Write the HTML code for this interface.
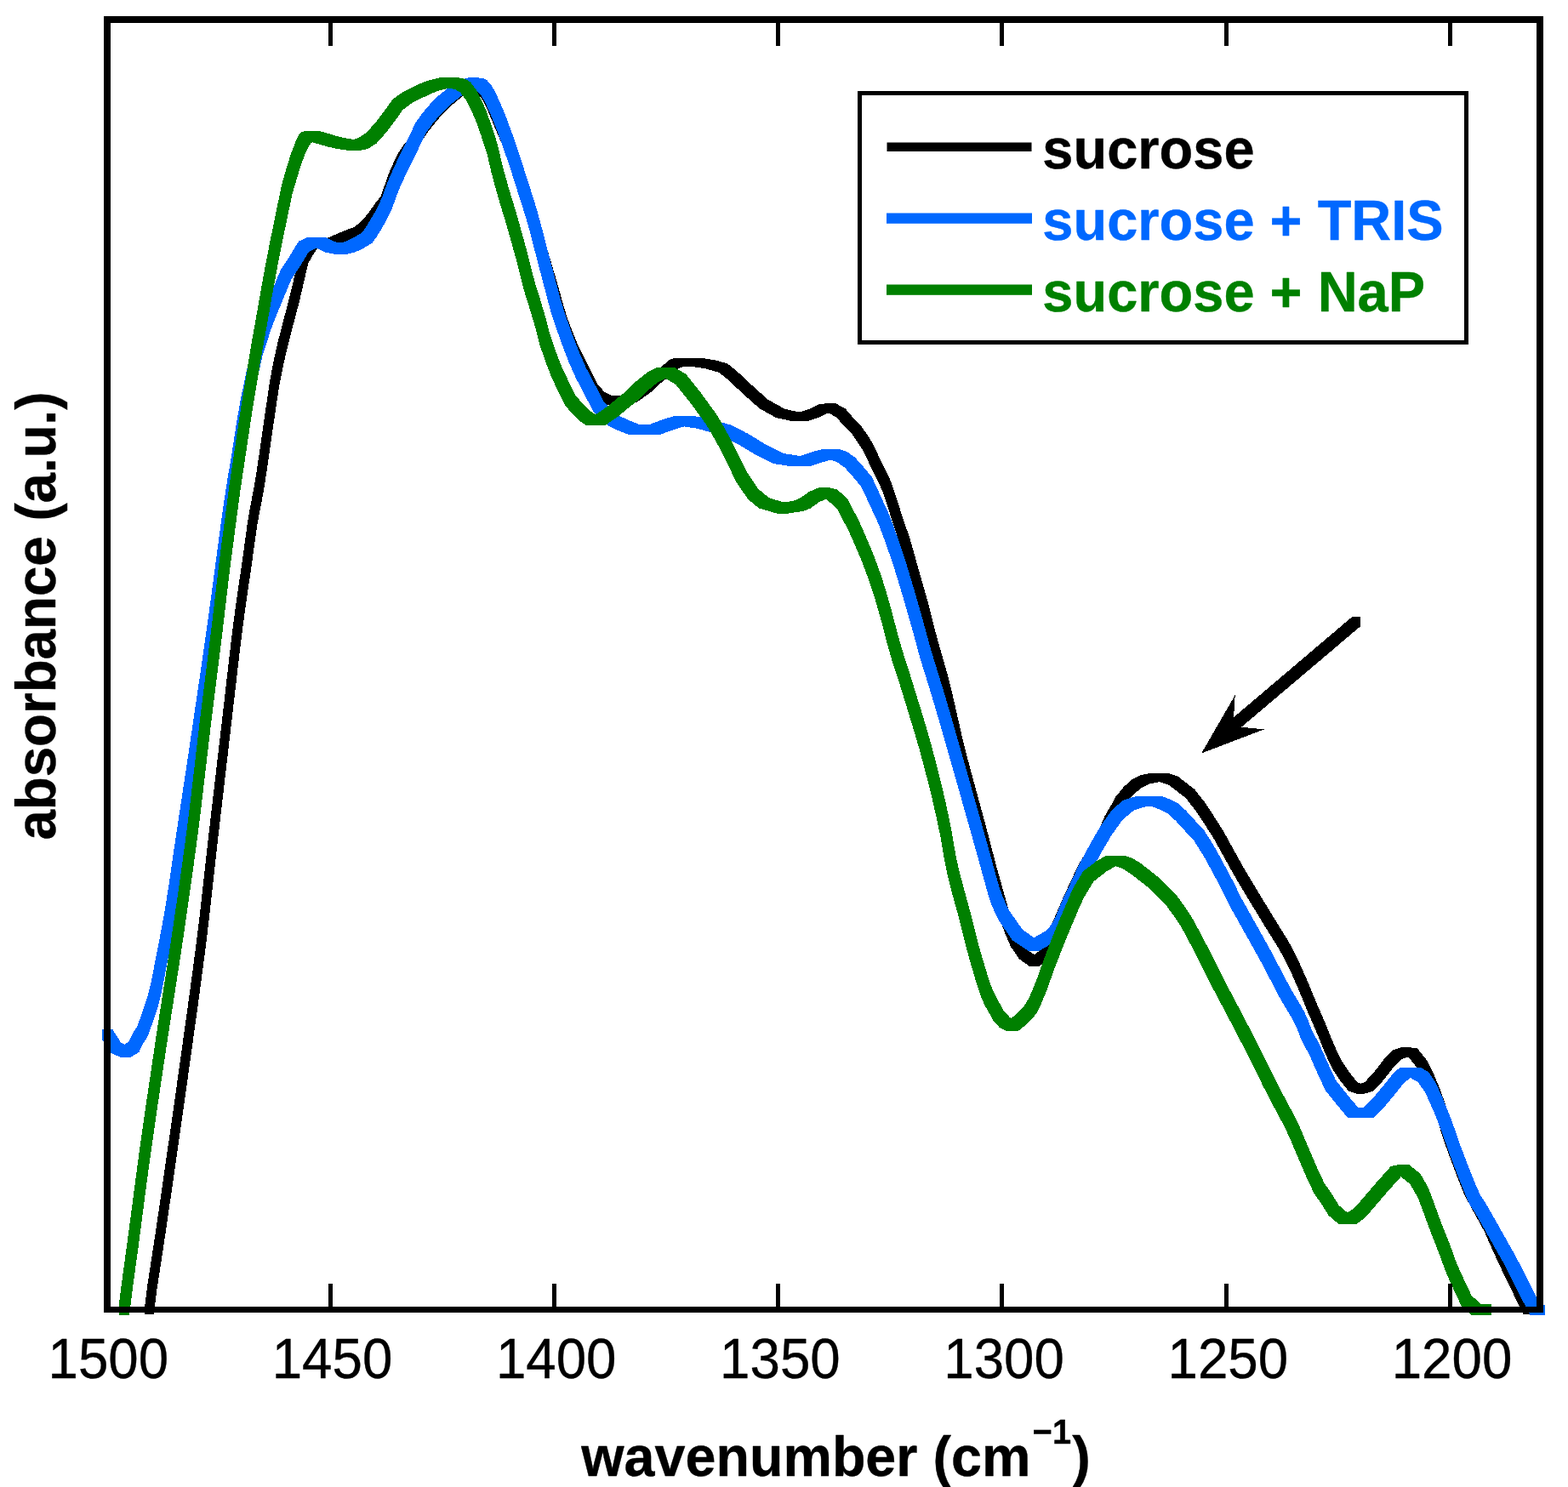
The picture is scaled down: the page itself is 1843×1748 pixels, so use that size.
<!DOCTYPE html>
<html lang="en">
<head>
<meta charset="utf-8">
<title>FTIR absorbance spectra: sucrose, sucrose + TRIS, sucrose + NaP</title>
<style>
html,body{margin:0;padding:0;background:#fff;}
body{width:1843px;height:1748px;overflow:hidden;}
svg{display:block;}
text{font-family:"Liberation Sans",sans-serif;fill:#000;stroke:#000;stroke-width:0.4px;stroke-linejoin:round;}
.tick{font-size:66.67px;text-anchor:middle;}
.lab{font-size:66.67px;font-weight:bold;}
</style>
</head>
<body>
<svg width="1843" height="1748" viewBox="0 0 1843 1748" role="img" aria-label="Absorbance versus wavenumber for sucrose, sucrose + TRIS and sucrose + NaP">
<rect x="0" y="0" width="1843" height="1748" fill="#fff"/>
<g id="curves" fill-rule="evenodd" shape-rendering="crispEdges">
<path fill="#000000" d="M219.0,1195.6 L205.7,1290.5 L189.0,1406.8 L182.3,1452.2 L173.6,1508.6 L170.3,1534.3 L170.3,1544.7 L180.7,1544.7 L184.7,1513.8 L190.9,1473.8 L196.0,1439.8 L215.2,1306.7 L233.4,1176.3 L241.3,1117.0 L246.3,1075.4 L256.2,986.0 L282.4,760.7 L285.4,737.0 L287.7,719.7 L295.6,665.1 L300.4,630.4 L302.1,618.9 L304.0,607.7 L309.2,580.8 L311.9,564.5 L315.2,542.7 L321.4,499.2 L326.2,466.6 L327.9,455.8 L329.9,444.9 L333.2,428.6 L336.9,412.3 L343.8,385.1 L351.7,355.2 L362.2,309.8 L367.1,301.0 L373.0,292.2 L383.1,290.1 L395.1,289.9 L408.8,284.0 L418.6,280.1 L426.4,277.2 L436.2,269.3 L444.0,259.6 L450.9,249.8 L457.8,241.1 L467.5,213.7 L473.4,200.0 L478.3,190.2 L483.6,182.2 L492.6,170.8 L502.1,156.1 L509.6,146.7 L518.9,135.5 L528.4,125.9 L546.1,111.2 L554.1,106.2 L556.6,105.3 L559.9,108.2 L567.5,117.9 L574.1,131.7 L581.6,149.8 L589.9,169.2 L598.9,195.2 L608.1,223.3 L618.5,254.4 L621.9,264.8 L625.0,275.0 L633.9,306.0 L645.4,345.1 L653.1,373.2 L656.6,384.2 L662.1,399.1 L668.2,413.8 L672.6,423.4 L692.5,462.5 L699.9,470.6 L708.6,475.3 L719.6,475.8 L729.9,475.8 L740.9,475.3 L749.1,472.5 L764.8,461.2 L776.5,450.5 L788.9,440.3 L796.6,433.5 L804.4,430.8 L812.2,430.8 L829.6,433.4 L844.9,437.8 L855.8,446.4 L873.1,462.8 L892.6,480.1 L912.2,491.0 L931.9,495.3 L942.1,495.3 L950.2,494.8 L963.4,490.4 L973.0,485.5 L973.7,485.5 L983.1,490.4 L990.6,499.1 L1000.4,508.9 L1008.1,519.9 L1015.6,531.8 L1022.1,545.9 L1029.8,561.1 L1037.3,577.4 L1042.8,593.8 L1048.2,611.1 L1059.3,644.2 L1060.9,649.2 L1063.7,659.1 L1069.1,679.0 L1080.0,717.1 L1090.9,759.4 L1103.8,805.1 L1106.8,816.7 L1109.6,828.3 L1120.2,874.8 L1125.9,898.0 L1132.1,921.2 L1147.8,979.0 L1160.7,1028.0 L1173.3,1073.1 L1176.8,1084.6 L1178.7,1090.3 L1180.8,1095.9 L1188.0,1112.8 L1197.8,1127.2 L1210.5,1136.4 L1220.9,1136.4 L1233.2,1127.2 L1245.2,1100.2 L1255.8,1075.1 L1260.2,1065.2 L1269.8,1044.0 L1274.8,1033.5 L1280.2,1023.1 L1283.0,1018.1 L1295.6,998.3 L1298.5,993.2 L1301.2,988.0 L1308.8,969.6 L1315.2,958.8 L1321.8,946.8 L1331.6,934.9 L1341.4,926.1 L1350.1,921.8 L1361.0,919.4 L1363.2,919.4 L1374.0,922.9 L1393.6,938.0 L1405.6,953.4 L1416.4,969.6 L1427.3,986.9 L1449.0,1026.2 L1459.9,1044.7 L1487.2,1089.8 L1503.1,1115.2 L1508.9,1125.6 L1511.7,1130.9 L1514.3,1136.3 L1519.3,1147.2 L1526.4,1163.4 L1537.2,1189.8 L1548.2,1215.1 L1557.5,1238.2 L1565.9,1256.2 L1575.4,1270.6 L1585.0,1282.5 L1593.8,1285.6 L1604.2,1285.6 L1614.7,1282.4 L1626.8,1269.0 L1638.7,1253.5 L1647.2,1245.0 L1654.4,1242.5 L1655.5,1242.7 L1666.3,1256.2 L1674.8,1272.9 L1681.8,1289.7 L1687.8,1306.4 L1693.3,1329.8 L1702.9,1357.2 L1712.4,1382.4 L1722.0,1406.2 L1744.8,1447.7 L1753.3,1467.2 L1761.5,1485.2 L1785.5,1535.0 L1790.3,1544.7 L1800.7,1544.7 L1800.7,1534.3 L1795.9,1524.6 L1771.9,1474.8 L1763.7,1456.8 L1755.2,1437.3 L1732.4,1395.9 L1722.8,1372.0 L1713.2,1346.9 L1703.7,1319.4 L1698.2,1296.0 L1692.2,1279.3 L1685.1,1262.5 L1676.7,1245.8 L1665.9,1232.3 L1657.1,1231.3 L1646.8,1231.3 L1636.8,1234.6 L1628.3,1243.1 L1616.4,1258.6 L1604.3,1272.0 L1599.4,1273.6 L1595.4,1272.1 L1585.8,1260.2 L1576.2,1245.8 L1567.9,1227.9 L1558.5,1204.8 L1547.6,1179.4 L1536.7,1153.1 L1529.6,1136.9 L1524.6,1126.0 L1522.0,1120.6 L1519.2,1115.2 L1513.4,1104.9 L1497.6,1079.4 L1470.2,1034.3 L1459.4,1015.9 L1437.7,976.6 L1426.8,959.4 L1416.0,943.1 L1404.0,927.8 L1384.4,912.6 L1373.6,909.1 L1350.6,909.1 L1339.8,911.5 L1331.0,915.9 L1321.2,924.6 L1311.4,936.5 L1304.9,948.5 L1298.4,959.4 L1290.8,977.8 L1288.2,982.9 L1285.3,988.0 L1272.7,1007.8 L1269.8,1012.9 L1267.1,1018.0 L1259.5,1033.7 L1249.8,1054.8 L1245.5,1064.8 L1234.8,1089.8 L1222.8,1116.8 L1215.6,1122.3 L1208.2,1116.8 L1198.4,1102.4 L1191.2,1085.5 L1189.0,1080.0 L1187.1,1074.3 L1183.6,1062.8 L1171.0,1017.7 L1158.2,968.8 L1142.4,910.9 L1136.2,887.7 L1130.5,864.5 L1119.9,818.0 L1117.1,806.4 L1114.2,794.9 L1101.2,749.1 L1090.4,706.9 L1079.5,668.8 L1074.0,648.8 L1071.2,638.9 L1069.7,634.0 L1058.6,600.9 L1053.1,583.5 L1047.7,567.1 L1040.1,550.9 L1032.5,535.6 L1026.0,521.5 L1018.4,509.6 L1010.6,498.7 L1000.9,488.9 L993.4,480.2 L982.1,474.2 L971.9,474.2 L962.8,475.2 L953.1,480.2 L940.0,484.6 L922.5,480.8 L902.9,469.9 L883.4,452.5 L866.0,436.2 L855.1,427.5 L839.9,423.2 L822.5,420.6 L794.2,420.5 L786.4,423.2 L778.6,430.1 L766.2,440.2 L754.5,451.0 L738.9,462.2 L730.6,465.1 L724.7,465.3 L718.9,465.1 L710.1,460.4 L702.8,452.2 L682.9,413.2 L678.5,403.5 L672.4,388.8 L666.9,374.0 L663.4,362.9 L655.6,334.9 L644.1,295.8 L635.3,264.7 L632.1,254.5 L628.8,244.1 L618.4,213.0 L609.1,184.8 L600.1,158.8 L591.9,139.5 L584.4,121.3 L577.8,107.5 L570.1,97.8 L566.1,94.3 L561.1,93.3 L550.9,93.3 L543.9,95.8 L535.9,100.8 L518.1,115.5 L508.6,125.2 L499.4,136.3 L491.9,145.8 L482.4,160.5 L473.4,171.8 L468.1,179.8 L463.2,189.7 L457.2,203.3 L447.5,230.8 L440.7,239.5 L433.8,249.2 L426.0,259.1 L416.2,267.0 L408.4,269.9 L398.6,273.8 L384.9,279.7 L372.9,279.9 L362.8,282.0 L356.9,290.8 L352.0,299.6 L341.4,344.9 L333.6,374.9 L326.6,402.0 L322.9,418.3 L319.6,434.6 L317.6,445.5 L315.9,456.3 L311.1,488.9 L304.9,532.4 L301.6,554.2 L299.0,570.5 L292.8,602.9 L290.9,614.4 L285.4,654.9 L277.4,709.4 L272.8,744.4 L269.3,774.1 L262.5,833.4 L246.6,969.8 L237.3,1053.2 L233.9,1083.0 L227.9,1130.4Z"/>
<path fill="#0068ff" d="M220.6,891.8 L206.3,986.2 L198.0,1043.0 L193.5,1071.3 L189.4,1094.0 L183.0,1126.5 L177.4,1156.0 L173.8,1170.0 L166.9,1191.0 L161.2,1206.8 L155.9,1215.0 L151.2,1224.8 L146.7,1227.6 L142.0,1225.4 L132.2,1210.0 L120.2,1210.0 L120.2,1222.1 L129.8,1237.5 L141.4,1242.8 L153.6,1242.8 L163.4,1236.8 L168.1,1227.0 L173.4,1218.8 L179.1,1203.0 L186.0,1182.1 L189.6,1168.0 L202.6,1100.4 L206.5,1077.8 L210.1,1055.1 L218.4,998.3 L235.4,886.1 L251.0,779.4 L257.7,732.0 L270.4,637.2 L276.0,597.8 L279.3,576.2 L284.1,549.0 L288.1,521.9 L290.7,505.6 L293.5,489.3 L295.6,478.4 L304.1,438.2 L308.4,418.7 L318.9,386.1 L326.1,367.8 L342.2,328.9 L351.9,314.2 L363.2,295.7 L372.1,291.8 L382.8,296.7 L392.6,298.7 L408.2,298.7 L418.1,296.2 L427.9,291.4 L437.7,285.4 L442.6,278.6 L447.4,270.8 L453.2,260.9 L457.2,253.2 L461.1,244.4 L468.9,222.9 L478.8,201.2 L490.4,177.9 L500.4,157.0 L508.2,145.7 L517.8,134.4 L527.3,124.8 L536.9,117.0 L546.0,110.0 L554.0,105.5 L557.3,104.8 L560.5,106.5 L565.0,111.5 L568.8,117.8 L575.5,131.8 L582.9,150.0 L590.2,170.0 L599.2,196.1 L617.9,255.2 L621.0,265.7 L623.7,275.9 L631.7,306.9 L647.2,365.7 L653.6,385.2 L660.5,404.8 L668.0,424.4 L676.6,443.9 L686.9,463.4 L696.9,483.1 L706.0,493.6 L715.6,500.9 L728.2,506.8 L740.0,511.2 L751.5,511.4 L763.5,511.4 L775.0,511.2 L792.5,504.8 L804.3,501.4 L820.1,503.9 L846.2,511.4 L867.9,522.3 L887.5,534.3 L909.2,545.1 L928.8,548.0 L940.1,548.3 L952.1,548.3 L963.0,544.5 L971.8,541.8 L976.2,540.8 L983.2,542.8 L993.1,549.9 L1002.9,560.8 L1012.7,572.8 L1032.2,615.1 L1037.7,629.3 L1043.1,644.5 L1048.4,659.7 L1053.2,674.7 L1062.3,705.1 L1068.8,727.5 L1073.5,744.2 L1079.5,766.6 L1082.7,777.8 L1091.5,806.0 L1098.0,827.7 L1106.0,854.9 L1118.5,898.5 L1146.4,997.2 L1162.2,1054.3 L1165.7,1064.0 L1167.6,1068.7 L1169.7,1073.4 L1171.9,1078.0 L1174.2,1082.5 L1189.9,1105.1 L1208.9,1118.1 L1221.0,1118.1 L1241.8,1106.0 L1245.4,1102.2 L1248.5,1097.8 L1251.2,1093.0 L1253.6,1087.9 L1260.0,1072.0 L1267.0,1057.3 L1278.3,1033.0 L1283.0,1023.4 L1295.3,1000.8 L1306.2,982.3 L1319.3,963.8 L1332.3,952.9 L1343.2,949.2 L1350.8,947.5 L1352.7,947.5 L1363.5,951.9 L1372.2,956.2 L1382.0,964.9 L1403.8,988.8 L1414.7,1006.2 L1425.5,1025.8 L1436.4,1046.5 L1447.2,1068.2 L1472.8,1113.9 L1481.0,1128.6 L1502.7,1170.0 L1505.4,1175.0 L1517.2,1194.7 L1520.0,1199.7 L1522.5,1204.8 L1524.9,1210.0 L1529.4,1222.1 L1539.0,1240.0 L1548.5,1261.6 L1558.0,1282.0 L1577.2,1305.8 L1584.5,1314.0 L1614.5,1314.0 L1627.5,1300.8 L1639.5,1286.5 L1649.0,1274.5 L1657.6,1266.8 L1666.9,1272.3 L1675.2,1284.3 L1684.9,1305.8 L1694.4,1329.8 L1704.0,1357.2 L1713.5,1382.3 L1723.0,1406.2 L1727.9,1417.0 L1735.5,1428.5 L1757.5,1467.5 L1768.5,1487.0 L1773.2,1496.2 L1791.0,1531.5 L1798.2,1545.5 L1815.8,1545.5 L1815.8,1533.5 L1810.3,1533.5 L1803.0,1519.5 L1785.3,1484.1 L1780.5,1475.0 L1769.6,1455.5 L1747.5,1416.5 L1740.0,1405.0 L1735.1,1394.2 L1725.5,1370.2 L1716.0,1345.2 L1706.5,1317.7 L1697.0,1293.8 L1687.3,1272.2 L1679.0,1260.2 L1669.5,1254.5 L1657.4,1254.5 L1645.5,1254.7 L1637.0,1262.5 L1627.5,1274.4 L1615.5,1288.8 L1602.4,1301.9 L1596.6,1301.9 L1589.2,1293.8 L1570.1,1269.9 L1560.6,1249.5 L1551.0,1228.0 L1541.5,1210.0 L1537.0,1198.0 L1534.6,1192.7 L1532.1,1187.6 L1529.3,1182.6 L1517.5,1162.9 L1514.8,1157.9 L1493.0,1116.5 L1484.9,1101.8 L1459.3,1056.2 L1448.5,1034.4 L1437.5,1013.8 L1426.8,994.2 L1415.8,976.8 L1394.0,952.9 L1384.3,944.2 L1375.6,939.9 L1364.8,935.5 L1338.8,935.5 L1331.2,937.2 L1320.2,940.9 L1307.2,951.8 L1294.2,970.2 L1283.2,988.8 L1271.0,1011.4 L1266.2,1020.9 L1254.9,1045.2 L1247.9,1059.9 L1241.5,1075.8 L1239.1,1080.9 L1236.4,1085.7 L1233.3,1090.1 L1229.7,1094.0 L1215.4,1102.2 L1202.0,1093.0 L1186.3,1070.5 L1184.0,1065.9 L1181.8,1061.3 L1179.7,1056.6 L1177.8,1051.9 L1174.3,1042.2 L1158.5,985.1 L1130.6,886.4 L1118.1,842.8 L1110.1,815.6 L1103.5,794.0 L1094.8,765.7 L1091.6,754.5 L1085.6,732.1 L1080.9,715.4 L1074.4,693.0 L1065.3,662.6 L1060.5,647.6 L1055.2,632.4 L1049.8,617.2 L1044.3,603.1 L1024.8,560.7 L1014.9,548.8 L1005.1,537.9 L995.3,530.8 L986.8,528.2 L966.2,528.2 L959.7,529.8 L951.0,532.5 L940.9,536.0 L921.2,533.1 L899.5,522.2 L879.9,510.2 L858.2,499.3 L832.1,491.8 L814.8,488.9 L802.7,488.9 L792.2,489.2 L780.5,492.6 L763.0,499.1 L757.5,499.1 L752.0,499.1 L740.3,494.6 L727.6,488.8 L718.0,481.4 L708.9,470.9 L698.9,451.3 L688.6,431.8 L680.0,412.2 L672.5,392.6 L665.6,373.1 L659.3,353.6 L643.8,294.8 L635.8,263.8 L631.5,248.3 L626.8,232.8 L611.2,183.9 L602.3,157.8 L594.9,137.8 L587.5,119.7 L580.8,105.7 L577.0,99.5 L572.5,94.4 L568.0,92.0 L562.5,91.4 L550.5,91.4 L542.0,93.5 L534.0,98.0 L524.9,104.9 L515.2,112.7 L505.6,122.3 L496.1,133.5 L488.2,144.8 L478.3,165.8 L466.6,189.1 L456.8,210.8 L448.9,232.2 L445.1,241.0 L441.1,248.8 L430.4,266.4 L425.6,273.3 L415.8,279.2 L405.9,284.1 L400.1,285.6 L394.9,284.6 L382.9,279.1 L361.3,279.1 L351.1,283.6 L339.8,302.1 L330.1,316.8 L313.9,355.6 L306.8,373.9 L296.3,406.6 L291.9,426.1 L284.6,460.9 L282.4,471.8 L280.5,482.6 L277.7,498.9 L271.9,537.0 L267.2,564.1 L263.9,585.7 L259.1,619.3 L247.2,708.5 L242.3,743.6 L234.6,797.0Z"/>
<path fill="#008000" d="M200.1,1111.7 L184.4,1212.5 L174.7,1277.7 L167.7,1325.2 L162.0,1366.2 L150.8,1451.3 L143.8,1502.5 L142.4,1512.8 L139.9,1533.5 L139.9,1545.5 L152.1,1545.5 L155.9,1514.6 L162.2,1469.0 L173.3,1384.0 L179.0,1343.2 L185.9,1295.7 L195.6,1230.5 L214.0,1112.0 L223.1,1049.4 L230.2,998.3 L233.3,975.1 L236.2,951.4 L248.1,850.5 L262.1,737.9 L269.9,671.5 L282.5,576.2 L296.4,483.9 L301.9,451.2 L306.2,424.1 L308.1,413.2 L313.1,386.1 L320.1,346.1 L326.2,313.0 L331.6,285.3 L337.7,256.4 L343.2,229.4 L348.6,210.9 L353.9,193.5 L359.7,178.2 L363.4,171.1 L366.1,167.7 L367.2,167.3 L382.6,171.8 L393.6,174.5 L409.8,177.0 L421.9,177.0 L431.8,175.2 L442.6,168.5 L454.6,154.9 L465.4,140.6 L473.4,129.1 L484.8,120.8 L506.4,110.1 L516.9,106.2 L527.9,103.6 L535.2,105.1 L541.4,109.0 L547.9,117.8 L554.0,129.6 L559.7,143.1 L565.7,160.0 L572.7,181.8 L577.2,201.4 L581.4,217.4 L585.9,233.4 L594.1,260.3 L598.6,276.0 L607.2,306.9 L613.6,332.7 L616.4,343.0 L617.9,348.1 L623.5,365.7 L629.2,385.2 L634.2,404.8 L640.9,424.4 L648.4,443.9 L657.7,463.4 L664.6,476.9 L672.9,486.8 L680.7,494.6 L688.6,499.7 L711.9,499.7 L727.6,488.8 L739.3,478.9 L749.1,471.1 L759.3,460.8 L773.9,448.9 L782.2,444.9 L794.0,451.8 L811.4,473.4 L828.8,497.4 L831.5,501.6 L836.6,510.2 L844.0,523.4 L865.7,566.9 L878.8,586.4 L891.8,597.3 L913.6,603.8 L925.6,603.8 L945.1,600.6 L952.1,597.8 L963.0,590.1 L970.1,587.1 L971.4,587.4 L979.0,593.4 L984.4,598.8 L989.9,609.8 L996.4,621.8 L1001.8,633.6 L1011.4,656.0 L1015.6,666.8 L1019.7,677.7 L1023.5,688.6 L1026.9,699.1 L1030.1,709.7 L1036.1,730.8 L1042.8,756.7 L1045.7,766.9 L1049.0,778.2 L1058.0,806.0 L1073.0,854.9 L1081.0,882.1 L1087.0,904.6 L1091.4,921.9 L1095.7,939.2 L1099.7,956.7 L1102.2,968.3 L1105.8,985.7 L1109.7,1008.8 L1111.9,1020.3 L1114.3,1031.7 L1118.7,1048.7 L1128.0,1082.5 L1136.5,1116.6 L1139.5,1127.8 L1147.6,1155.2 L1151.0,1165.9 L1153.0,1171.2 L1155.0,1176.4 L1157.4,1181.5 L1168.0,1200.5 L1174.5,1207.5 L1181.8,1211.6 L1197.2,1211.6 L1205.0,1205.5 L1215.0,1195.6 L1218.0,1191.4 L1220.6,1186.9 L1222.9,1182.1 L1225.0,1177.2 L1230.9,1162.7 L1239.3,1139.0 L1248.4,1115.5 L1258.0,1091.9 L1268.0,1068.3 L1272.3,1058.9 L1274.6,1054.3 L1285.1,1036.5 L1300.8,1024.2 L1311.4,1018.3 L1320.0,1021.4 L1328.8,1027.0 L1338.5,1034.5 L1349.4,1043.2 L1371.2,1065.0 L1382.5,1080.5 L1388.2,1089.6 L1393.5,1099.0 L1406.0,1122.8 L1425.2,1161.0 L1446.3,1201.0 L1461.9,1231.1 L1472.0,1251.1 L1483.9,1275.3 L1491.2,1289.8 L1508.0,1321.3 L1515.0,1335.6 L1536.5,1386.0 L1545.0,1403.8 L1551.4,1412.5 L1561.8,1429.0 L1573.0,1438.6 L1594.8,1438.6 L1605.0,1431.1 L1632.5,1399.0 L1646.6,1383.3 L1657.4,1392.0 L1666.9,1408.6 L1683.0,1452.0 L1691.7,1474.1 L1699.1,1494.5 L1701.2,1499.5 L1710.5,1520.0 L1717.5,1534.8 L1729.0,1545.5 L1752.6,1545.5 L1752.6,1533.5 L1741.0,1533.4 L1729.6,1522.8 L1722.5,1508.0 L1713.2,1487.5 L1711.2,1482.4 L1703.8,1462.0 L1695.0,1440.0 L1679.0,1396.5 L1669.5,1379.9 L1656.3,1369.2 L1644.2,1369.2 L1634.9,1370.9 L1620.5,1387.0 L1593.0,1419.0 L1584.0,1425.6 L1573.8,1417.0 L1563.5,1400.5 L1557.0,1391.8 L1548.6,1373.9 L1527.1,1323.5 L1520.0,1309.2 L1503.3,1277.7 L1496.0,1263.2 L1484.1,1239.0 L1474.0,1219.0 L1458.4,1188.9 L1437.3,1149.0 L1418.1,1110.7 L1405.6,1086.9 L1400.3,1077.5 L1394.5,1068.5 L1383.2,1052.9 L1361.5,1031.2 L1350.6,1022.5 L1340.8,1014.9 L1332.1,1009.4 L1323.5,1006.2 L1299.5,1006.1 L1288.8,1012.2 L1273.0,1024.4 L1262.5,1042.2 L1258.0,1051.5 L1253.9,1061.0 L1243.9,1084.6 L1234.4,1108.1 L1227.2,1127.0 L1218.8,1150.6 L1212.9,1165.1 L1210.8,1170.0 L1208.5,1174.8 L1205.9,1179.3 L1202.9,1183.5 L1193.0,1193.5 L1188.8,1196.7 L1186.5,1195.5 L1180.0,1188.5 L1169.5,1169.4 L1167.1,1164.3 L1165.1,1159.1 L1163.1,1153.8 L1159.7,1143.1 L1151.6,1115.7 L1148.6,1104.5 L1140.0,1070.5 L1130.8,1036.6 L1126.4,1019.6 L1124.0,1008.2 L1121.8,996.7 L1117.9,973.6 L1114.3,956.2 L1111.8,944.6 L1107.8,927.1 L1103.5,909.8 L1099.1,892.5 L1093.1,870.0 L1085.1,842.8 L1070.0,794.0 L1061.1,766.1 L1057.8,754.9 L1054.9,744.6 L1048.2,718.7 L1042.2,697.6 L1039.0,687.0 L1035.6,676.6 L1031.8,665.6 L1027.7,654.7 L1023.4,644.0 L1013.8,621.6 L1008.4,609.7 L1001.9,597.7 L996.4,586.8 L991.0,581.4 L983.4,575.4 L974.5,573.2 L962.5,573.2 L951.0,578.1 L940.1,585.7 L933.1,588.6 L921.4,590.5 L903.8,585.2 L890.8,574.4 L877.8,554.9 L856.0,511.3 L848.7,498.1 L843.6,489.5 L840.8,485.2 L823.4,461.3 L806.0,439.6 L792.1,431.6 L772.7,431.6 L761.9,436.8 L747.2,448.6 L737.1,458.9 L727.2,466.8 L715.6,476.6 L700.2,487.3 L692.8,482.4 L684.9,474.6 L676.6,464.8 L669.8,451.3 L660.4,431.8 L652.9,412.2 L646.3,392.6 L641.2,373.1 L635.5,353.6 L629.9,335.9 L628.5,330.9 L625.7,320.6 L619.2,294.8 L610.7,263.9 L606.2,248.2 L598.0,221.3 L593.5,205.3 L589.3,189.3 L584.8,169.6 L577.8,147.8 L571.8,130.9 L566.0,117.5 L559.9,105.7 L553.4,97.0 L547.3,93.0 L535.1,90.5 L523.1,90.5 L516.2,91.5 L504.8,94.2 L494.3,98.0 L472.6,108.8 L461.3,117.0 L453.2,128.4 L442.4,142.8 L430.4,156.3 L419.6,163.0 L415.4,163.8 L405.7,162.3 L394.8,159.6 L375.2,153.9 L363.1,153.9 L357.9,154.1 L353.9,155.5 L351.2,158.9 L347.6,166.1 L341.8,181.3 L336.4,198.8 L331.1,217.2 L317.3,284.4 L313.0,306.4 L308.9,328.4 L300.9,373.9 L296.0,401.1 L294.1,412.0 L289.8,439.1 L283.5,477.2 L269.6,569.6 L264.7,607.7 L259.2,648.2 L256.5,670.3 L250.0,725.8 L235.2,844.4 L224.1,939.3 L218.9,980.5 L213.5,1020.3 L206.1,1071.3Z"/>
</g>
<g id="axes">
<rect x="122" y="19" width="8" height="1524" fill="#000"/>
<rect x="1806" y="19" width="8" height="1524" fill="#000"/>
<rect x="122" y="19" width="1692" height="8" fill="#000"/>
<rect x="122" y="1536" width="1692" height="7" fill="#000"/>
<rect x="386" y="26" width="5" height="28" fill="#000"/>
<rect x="386" y="1509" width="5" height="28" fill="#000"/>
<rect x="649" y="26" width="5" height="28" fill="#000"/>
<rect x="649" y="1509" width="5" height="28" fill="#000"/>
<rect x="912" y="26" width="5" height="28" fill="#000"/>
<rect x="912" y="1509" width="5" height="28" fill="#000"/>
<rect x="1175" y="26" width="5" height="28" fill="#000"/>
<rect x="1175" y="1509" width="5" height="28" fill="#000"/>
<rect x="1439" y="26" width="5" height="28" fill="#000"/>
<rect x="1439" y="1509" width="5" height="28" fill="#000"/>
<rect x="1702" y="26" width="5" height="28" fill="#000"/>
<rect x="1702" y="1509" width="5" height="28" fill="#000"/>
</g>
<g id="ticklabels">
<text class="tick" transform="translate(127.3,1620) scale(0.955,1)" x="0" y="0">1500</text>
<text class="tick" transform="translate(390.5,1620) scale(0.955,1)" x="0" y="0">1450</text>
<text class="tick" transform="translate(653.7,1620) scale(0.955,1)" x="0" y="0">1400</text>
<text class="tick" transform="translate(916.9,1620) scale(0.955,1)" x="0" y="0">1350</text>
<text class="tick" transform="translate(1180.1,1620) scale(0.955,1)" x="0" y="0">1300</text>
<text class="tick" transform="translate(1443.3,1620) scale(0.955,1)" x="0" y="0">1250</text>
<text class="tick" transform="translate(1706.5,1620) scale(0.955,1)" x="0" y="0">1200</text>
</g>
<text class="lab" transform="translate(683.3,1735) scale(0.9698,1)" x="0" y="0">wavenumber (cm<tspan x="547" y="-38" font-size="41">−1</tspan><tspan x="595" y="0">)</tspan></text>
<text class="lab" transform="translate(65,987.6) rotate(-90) scale(0.955,1)" x="0" y="0">absorbance (a.u.)</text>
<g id="legend">
<rect x="1010.5" y="109.5" width="713" height="293" fill="#fff" stroke="#000" stroke-width="5"/>
<rect x="1042.5" y="167.5" width="170" height="10.5" fill="#000"/>
<rect x="1042" y="250.5" width="171" height="12.3" fill="#0068ff"/>
<rect x="1042" y="334.5" width="171" height="12.3" fill="#008000"/>
<text class="lab" transform="translate(1225.3,198) scale(0.975,1)" x="0" y="0">sucrose</text>
<text class="lab" transform="translate(1225.3,282) scale(0.975,1)" x="0" y="0" style="fill:#0068ff;stroke:#0068ff">sucrose + TRIS</text>
<text class="lab" transform="translate(1225.3,366) scale(0.975,1)" x="0" y="0" style="fill:#008000;stroke:#008000">sucrose + NaP</text>
</g>
<polygon id="arrow" fill="#000" shape-rendering="crispEdges" points="1412.2,885.5 1451.7,817.1 1450.1,843.2 1589.2,725.1 1598.9,725.1 1598.9,736.4 1459,854.8 1486.1,857.3"/>
</svg>
</body>
</html>
